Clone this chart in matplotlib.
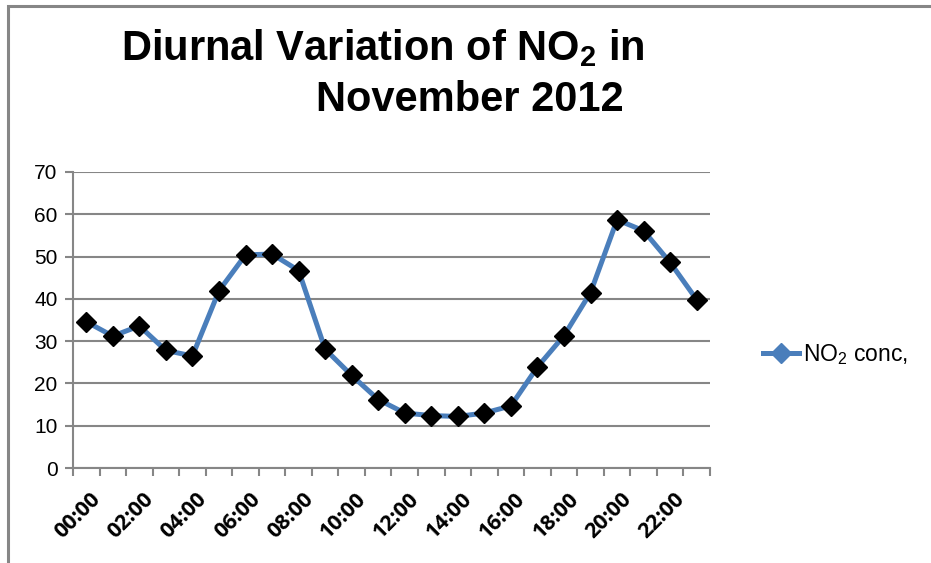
import matplotlib
matplotlib.use("Agg")
import matplotlib.pyplot as plt
from matplotlib.lines import Line2D
from matplotlib.patches import Rectangle
import numpy as np

# hourly mean NO2 concentration, November 2012
hours = ["%02d:00" % h for h in range(24)]
no2 = [34.6, 31.2, 33.6, 27.8, 26.5, 41.9, 50.4, 50.6, 46.7, 28.1, 21.9, 16.2,
       13.0, 12.4, 12.2, 13.0, 14.7, 23.9, 31.3, 41.5, 58.7, 56.1, 48.6, 39.8]
y_ticks = [0, 10, 20, 30, 40, 50, 60, 70]

blue = "#4a7ebb"
grey = "#868686"

plt.rcParams['font.family'] = ['Liberation Sans', 'DejaVu Sans']
plt.rcParams['mathtext.fontset'] = 'custom'
plt.rcParams['mathtext.rm'] = 'Liberation Sans'
plt.rcParams['mathtext.bf'] = 'Liberation Sans:bold'

fig = plt.figure(figsize=(9.31, 5.63), dpi=100)
ax = fig.add_axes([0.0784, 0.1687, 0.6842, 0.5258])

x = np.arange(len(hours))
ax.plot(x, no2, color=blue, lw=3.6, marker="D", ms=10.5,
        mfc="black", mec="black", zorder=3)

ax.set_xlim(-0.5, len(hours) - 0.5)
ax.set_ylim(0, 70)
ax.set_yticks(y_ticks)
ax.yaxis.grid(True, color=grey, lw=1.5)
ax.set_axisbelow(True)

# tick marks on category boundaries, labels on every second category
ax.set_xticks(np.arange(-0.5, len(hours), 1.0))
ax.set_xticklabels([])
ax.set_xticks(x[::2] + 0.15, minor=True)
ax.set_xticklabels(hours[::2], minor=True, rotation=45, ha="right",
                   rotation_mode="anchor", fontsize=15.5, fontweight="bold",
                   family=['Open Sans', 'DejaVu Sans'])
ax.tick_params(axis="x", which="major", length=6, width=1.5, color=grey)
ax.tick_params(axis="x", which="minor", length=0, pad=15)
ax.tick_params(axis="y", length=6, width=1.5, color=grey, labelsize=15, pad=5)

for s in ["top", "right"]:
    ax.spines[s].set_visible(False)
for s in ["left", "bottom"]:
    ax.spines[s].set_color(grey)
    ax.spines[s].set_linewidth(1.5)

fig.text(0.411, 0.915, r"Diurnal Variation of NO$_\mathbf{2}$ in", ha="center",
         va="center", fontsize=30, fontweight="bold")
fig.text(0.505, 0.822, "November 2012", ha="center", va="center",
         fontsize=30, fontweight="bold")

handle = Line2D([], [], color=blue, lw=3.6, marker="D", ms=10.5, mfc=blue, mec=blue)
fig.legend([handle], ["NO$_2$ conc,"], loc="center left",
           bbox_to_anchor=(0.797, 0.37), frameon=False, fontsize=16.5,
           handlelength=1.6, handletextpad=0.15)

# chart area border, partly cropped
fig.add_artist(Rectangle((0.0085, -0.1), 1.2, 1.089, transform=fig.transFigure,
                         fill=False, ec=grey, lw=2.2))

fig.savefig("out.png", dpi=100)
